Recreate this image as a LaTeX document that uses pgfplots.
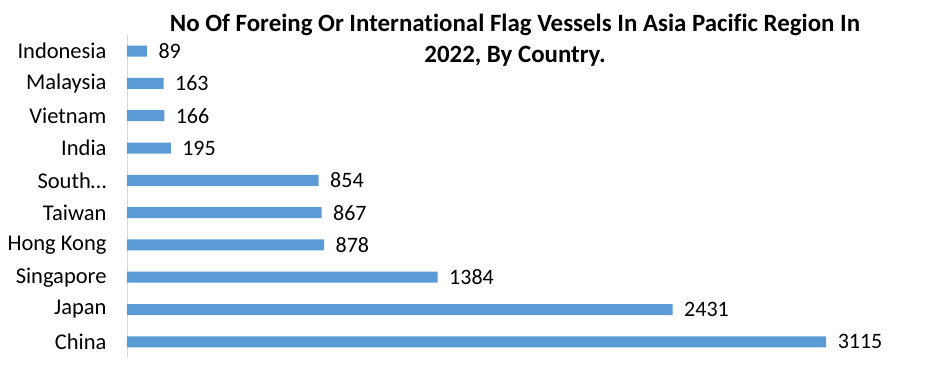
\documentclass[border=0pt]{standalone}
\usepackage{pgfplots}
\pgfplotsset{compat=1.18}
\usepackage{fontspec}
\setmainfont{Carlito}[Ligatures=NoCommon]
\definecolor{barblue}{HTML}{5B9BD5}
\definecolor{axgray}{HTML}{D9D9D9}
\begin{document}
\begin{tikzpicture}
\path[use as bounding box] (-127pt,-8pt) rectangle (807pt,358pt);
\begin{axis}[
  scale only axis, width=798pt, height=323pt,
  xmin=0, xmax=3555,
  ymin=-0.5, ymax=9.5,
  xbar, bar width=11pt,
  axis x line=none,
  axis y line*=left,
  y axis line style={axgray, line width=0.8pt, -},
  ytick={0,...,9},
  yticklabels={China,Japan,Singapore,Hong Kong,Taiwan,South…,India,Vietnam,Malaysia,Indonesia},
  major tick length=0pt,
  yticklabel style={font=\fontsize{22.5}{25}\selectfont, xshift=-17pt},
  nodes near coords,
  nodes near coords style={font=\fontsize{22}{25}\selectfont, anchor=west, xshift=8pt},
  point meta=x,
  /pgf/number format/assume math mode=true,
  /pgf/number format/1000 sep={},
  clip=false,
]
\addplot[fill=barblue, draw=none] coordinates {
  (3115,0) (2431,1) (1384,2) (878,3) (867,4) (854,5) (195,6) (166,7) (163,8) (89,9)
};
\end{axis}
\node[font=\fontsize{24.9}{31}\selectfont\bfseries, align=center, anchor=base] at (388pt,295pt) {No Of Foreing Or International Flag Vessels In Asia Pacific Region In\\2022, By Country.};
\end{tikzpicture}
\end{document}
